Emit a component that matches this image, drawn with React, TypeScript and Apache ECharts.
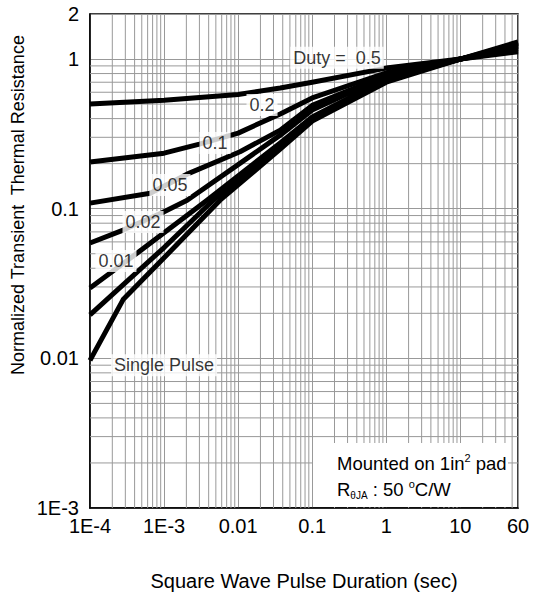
import React, { useEffect, useRef } from 'react';
import * as echarts from 'echarts';

const X_MIN = 1e-4;
const X_MAX = 60;
const Y_MIN = 1e-3;
const Y_MAX = 2;

const xTickValues = [1e-4, 1e-3, 0.01, 0.1, 1, 10, 60];
const xTickLabels = ['1E-4', '1E-3', '0.01', '0.1', '1', '10', '60'];
const yTickValues = [1e-3, 0.01, 0.1, 1, 2];
const yTickLabels = ['1E-3', '0.01', '0.1', '1', '2'];

// minor grid values (2..9 per decade)
const xMinorGrid: number[] = [];
for (let e = -4; e <= 1; e++) {
  for (let k = 2; k <= 9; k++) {
    const v = k * Math.pow(10, e);
    if (v < X_MAX) xMinorGrid.push(v);
  }
}
const yMinorGrid: number[] = [];
for (let e = -3; e <= -1; e++) {
  for (let k = 2; k <= 9; k++) yMinorGrid.push(k * Math.pow(10, e));
}

// curves [pulse duration (s), normalized resistance]
const duty05 = [[1e-4, 0.50], [1e-3, 0.53], [0.01, 0.58], [0.037, 0.64], [0.1, 0.70], [1, 0.87], [10, 1.0], [60, 1.12]];
const duty02 = [[1e-4, 0.205], [1e-3, 0.235], [3e-3, 0.27], [0.01, 0.32], [0.037, 0.43], [0.1, 0.55], [1, 0.81], [10, 1.0], [60, 1.15]];
const duty01 = [[1e-4, 0.109], [6.5e-4, 0.127], [2.2e-3, 0.173], [0.0106, 0.24], [0.037, 0.335], [0.1, 0.49], [1, 0.78], [10, 1.0], [60, 1.18]];
const duty005 = [[1e-4, 0.059], [2.8e-4, 0.072], [9.4e-4, 0.094], [2.05e-3, 0.114], [0.037, 0.31], [0.1, 0.456], [1, 0.77], [10, 1.0], [60, 1.21]];
const duty002 = [[1e-4, 0.0295], [4e-4, 0.049], [3.8e-3, 0.114], [0.037, 0.275], [0.1, 0.41], [1, 0.74], [10, 1.0], [60, 1.24]];
const duty001 = [[1e-4, 0.0195], [1e-3, 0.055], [4.6e-3, 0.114], [0.037, 0.262], [0.1, 0.395], [1, 0.72], [10, 1.0], [60, 1.27]];
const single = [[1e-4, 0.0097], [2.8e-4, 0.0247], [1e-3, 0.047], [5.7e-3, 0.114], [0.037, 0.25], [0.1, 0.385], [1, 0.70], [10, 1.0], [60, 1.3]];

const curves = [duty05, duty02, duty01, duty005, duty002, duty001, single];

// curve labels, anchored in data coordinates
const curveLabelText = ['Duty =  0.5', '0.2', '0.1', '0.05', '0.02', '0.01', 'Single Pulse'];
const curveLabelX = [0.216, 0.021, 0.00488, 0.0012, 5.2e-4, 2.24e-4, 1e-3];
const curveLabelY = [1.02, 0.493, 0.275, 0.144, 0.0815, 0.0447, 0.009];

const FONT = "'Liberation Sans', Arial, Helvetica, sans-serif";
const GRID_COLOR = '#999999';

const fmt = (vals: number[], labels: string[]) => (v: number) => {
  const i = vals.findIndex((t) => Math.abs(Math.log10(v) - Math.log10(t)) < 1e-4);
  return i >= 0 ? labels[i] : '';
};

export default function App() {
  const ref = useRef<HTMLDivElement>(null);
  useEffect(() => {
    const chart = echarts.init(ref.current!, undefined, { renderer: 'svg' });
    const lineSeries = curves.map((c) => ({
      type: 'line',
      data: c,
      showSymbol: false,
      symbol: 'none',
      smooth: false,
      z: 3,
      lineStyle: { color: '#000', width: 5, join: 'round', cap: 'butt' },
      silent: true,
    }));
    const option: any = {
      animation: false,
      backgroundColor: '#fff',
      grid: { left: 90, right: 21, top: 14, bottom: 93, show: true, borderColor: '#000', borderWidth: 1.5 },
      xAxis: {
        type: 'log',
        logBase: 10,
        min: X_MIN,
        max: X_MAX,
        axisLine: { show: true, lineStyle: { color: '#000', width: 1.5 } },
        axisTick: { show: false },
        axisLabel: {
          fontSize: 20, color: '#000', fontFamily: FONT, margin: 8,
          formatter: fmt(xTickValues, xTickLabels), showMinLabel: true, showMaxLabel: true,
        },
        splitLine: { show: true, lineStyle: { color: GRID_COLOR, width: 1 } },
        name: 'Square Wave Pulse Duration (sec)',
        nameLocation: 'middle',
        nameGap: 63,
        nameTextStyle: { fontSize: 20, color: '#000', fontFamily: FONT },
      },
      yAxis: {
        type: 'log',
        logBase: 10,
        min: Y_MIN,
        max: Y_MAX,
        axisLine: { show: true, lineStyle: { color: '#000', width: 1.5 } },
        axisTick: { show: false },
        axisLabel: {
          fontSize: 20, color: '#000', fontFamily: FONT, margin: 11,
          formatter: fmt(yTickValues, yTickLabels), showMinLabel: true, showMaxLabel: true,
        },
        splitLine: { show: true, lineStyle: { color: GRID_COLOR, width: 1 } },
      },
      series: [
        {
          type: 'custom',
          silent: true,
          z: 1,
          data: xMinorGrid.map((v) => [v, 1]),
          encode: { x: 0, y: 1 },
          renderItem: (params: any, api: any) => {
            const x = api.value(0);
            const a = api.coord([x, Y_MIN]);
            const b = api.coord([x, Y_MAX]);
            return { type: 'line', shape: { x1: a[0], y1: a[1], x2: b[0], y2: b[1] }, style: { stroke: GRID_COLOR, lineWidth: 1 } };
          },
        },
        {
          type: 'custom',
          silent: true,
          z: 1,
          data: yMinorGrid.map((v) => [1, v]),
          encode: { x: 0, y: 1 },
          renderItem: (params: any, api: any) => {
            const y = api.value(1);
            const a = api.coord([X_MIN, y]);
            const b = api.coord([X_MAX, y]);
            return { type: 'line', shape: { x1: a[0], y1: a[1], x2: b[0], y2: b[1] }, style: { stroke: GRID_COLOR, lineWidth: 1 } };
          },
        },
        ...lineSeries,
        {
          type: 'scatter',
          z: 5,
          silent: true,
          symbolSize: 1,
          itemStyle: { color: 'rgba(0,0,0,0)' },
          data: curveLabelText.map((t, i) => ({ name: t, value: [curveLabelX[i], curveLabelY[i]] })),
          label: {
            show: true,
            position: 'inside',
            formatter: (p: any) => p.name,
            fontSize: 18,
            fontFamily: FONT,
            color: '#000',
            backgroundColor: '#fff',
            padding: [2, 3],
          },
        },
      ],
      graphic: [
        {
          type: 'rect',
          z: 100,
          shape: { x: 313, y: 443, width: 195, height: 64 },
          style: { fill: '#fff' },
        },
        {
          type: 'text',
          z: 101,
          x: 337,
          y: 463,
          style: {
            text: '{a|Mounted on 1in}{s|2}{a| pad}',
            align: 'left',
            verticalAlign: 'middle',
            rich: {
              a: { fontSize: 18.5, fontFamily: FONT, fill: '#000', lineHeight: 22 },
              s: { fontSize: 11, fontFamily: FONT, fill: '#000', lineHeight: 12, verticalAlign: 'top' },
            },
          },
        },
        {
          type: 'text',
          z: 101,
          x: 337,
          y: 489,
          style: {
            text: '{a|R}{b|θJA}{a| : 50 }{s|o}{a|C/W}',
            align: 'left',
            verticalAlign: 'middle',
            rich: {
              a: { fontSize: 18.5, fontFamily: FONT, fill: '#000', lineHeight: 22 },
              b: { fontSize: 10, fontFamily: FONT, fill: '#000', lineHeight: 10, verticalAlign: 'bottom' },
              s: { fontSize: 11, fontFamily: FONT, fill: '#000', lineHeight: 12, verticalAlign: 'top' },
            },
          },
        },
        {
          type: 'text',
          z: 101,
          x: 18,
          y: 205,
          rotation: Math.PI / 2,
          style: {
            text: 'Normalized Transient  Thermal Resistance',
            fontSize: 18,
            fontFamily: FONT,
            fill: '#000',
            align: 'center',
            verticalAlign: 'middle',
          },
        },
      ],
    };
    chart.setOption(option);
    return () => chart.dispose();
  }, []);
  return (
    <div
      ref={ref}
      style={{ position: 'fixed', left: 0, top: 0, width: 539, height: 601, background: '#fff' }}
    />
  );
}
